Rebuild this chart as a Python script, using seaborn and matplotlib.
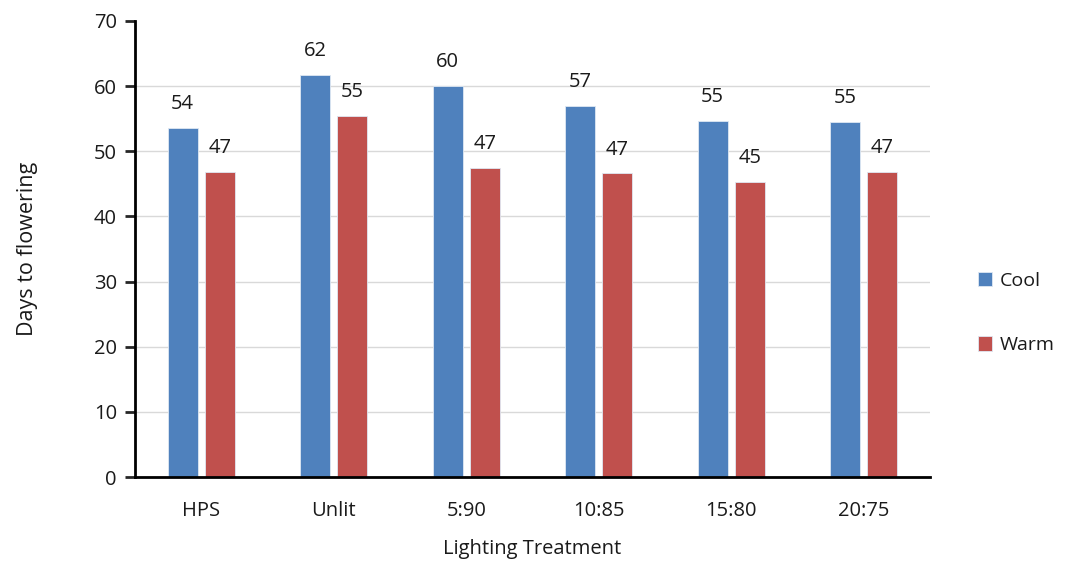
import matplotlib
matplotlib.use("Agg")
import matplotlib.pyplot as plt
import seaborn as sns
import pandas as pd

# data
treatments = ["HPS", "Unlit", "5:90", "10:85", "15:80", "20:75"]
cool_days = [53.6, 61.7, 60.0, 57.0, 54.7, 54.5]
warm_days = [46.8, 55.4, 47.4, 46.6, 45.3, 46.8]
cool_labels = ["54", "62", "60", "57", "55", "55"]
warm_labels = ["47", "55", "47", "47", "45", "47"]

df = pd.DataFrame({
    "Lighting Treatment": treatments * 2,
    "Days": cool_days + warm_days,
    "Temp": ["Cool"] * len(treatments) + ["Warm"] * len(treatments),
})

sns.set_style("white")
plt.rcParams['font.family'] = ['Open Sans', 'DejaVu Sans']
txt = "#1a1a1a"

fig = plt.figure(figsize=(10.69, 5.63), dpi=100)
ax = fig.add_axes([0.1263, 0.1527, 0.7437, 0.81])

sns.barplot(data=df, x="Lighting Treatment", y="Days", hue="Temp",
            palette=["#4F81BD", "#C0504D"], saturation=1, width=0.56, gap=0.2,
            edgecolor="#dfe8f3", linewidth=0.6, ax=ax, legend=True)

for cont, labs in zip(ax.containers, [cool_labels, warm_labels]):
    ax.bar_label(cont, labels=labs, padding=10, fontsize=14.5, color=txt)

ax.set_ylim(0, 70)
ax.set_yticks(range(0, 71, 10))
ax.yaxis.grid(True, color="#d9d9d9", linewidth=1)
ax.get_ygridlines()[-1].set_visible(False)
ax.set_axisbelow(True)
for s in ["top", "right"]:
    ax.spines[s].set_visible(False)
for s in ["left", "bottom"]:
    ax.spines[s].set_color("black")
    ax.spines[s].set_linewidth(2)
ax.tick_params(axis="y", direction="out", length=7, width=2, labelsize=14.5,
               left=True, pad=6, labelcolor=txt)
ax.tick_params(axis="x", length=0, labelsize=14.5, pad=17, labelcolor=txt)
ax.set_xlabel("Lighting Treatment", fontsize=14.5, labelpad=13, color=txt)
ax.set_ylabel("Days to flowering", fontsize=15.5, labelpad=40, color=txt)

leg = ax.legend(loc="center left", bbox_to_anchor=(1.05, 0.36), frameon=False,
                fontsize=14, labelspacing=2.4, handlelength=0.75, handleheight=0.75,
                handletextpad=0.4, borderaxespad=0)
for t in leg.get_texts():
    t.set_color(txt)

fig.savefig("out.png", dpi=100)
